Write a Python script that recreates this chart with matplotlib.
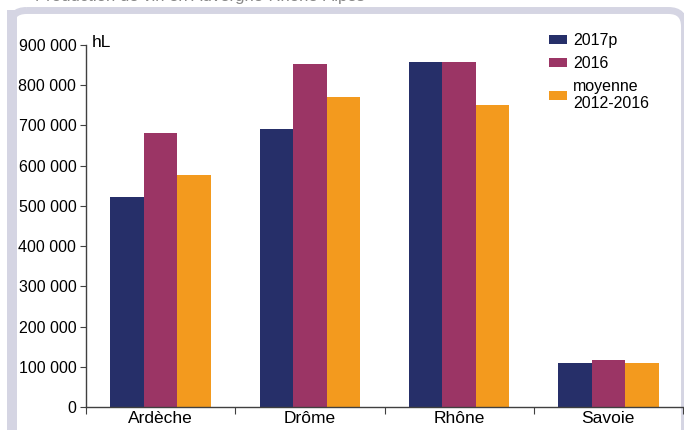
import numpy as np
import matplotlib
matplotlib.use("Agg")
import matplotlib.pyplot as plt
from matplotlib.patches import FancyBboxPatch, Rectangle

plt.rcParams['font.family'] = ['Liberation Sans', 'DejaVu Sans']

# data (hL)
regions = ["Ardèche", "Drôme", "Rhône", "Savoie"]
v2017 = [521000, 691000, 858000, 110000]
v2016 = [681000, 853000, 858000, 117000]
vmoy = [578000, 771000, 751000, 110000]
labels = ["2017p", "2016", "moyenne\n2012-2016"]
colors = ["#262f69", "#9b3565", "#f39a1e"]
yticks = np.arange(0, 900001, 100000)

W, H = 684, 430
fig = plt.figure(figsize=(W / 100, H / 100), dpi=100)

# frame around the chart, in pixel coords
bg = fig.add_axes([0, 0, 1, 1])
bg.set_xlim(0, W)
bg.set_ylim(H, 0)
bg.axis("off")
frame = FancyBboxPatch((10.5, 10.5), 674, 440,
                       boxstyle="round,pad=0,rounding_size=16",
                       fc="none", ec="#d5d5e3", lw=5.0)
bg.add_patch(frame)
bg.add_patch(Rectangle((7, 10), 10, 430, fc="#d5d5e3", ec="none"))
# title cut off by the top edge, as in the source
bg.text(35, 0.5, "Production de vin en Auvergne-Rhône-Alpes", fontsize=12,
        color="#888888", va="baseline", ha="left")

ax = fig.add_axes([86 / W, (H - 407) / H, 597 / W, 362 / H])
x = np.arange(len(regions))
w = 0.225
for i, (vals, lab, c) in enumerate(zip([v2017, v2016, vmoy], labels, colors)):
    ax.bar(x + (i - 1) * w, vals, w, color=c, label=lab, zorder=2)

ax.set_xlim(-0.5, len(regions) - 0.5)
ax.set_ylim(0, 900000)
ax.set_yticks(yticks)
ax.set_yticklabels([f"{v:,}".replace(",", " ") for v in yticks], fontsize=11.5)
ax.set_xticks(np.arange(len(regions) + 1) - 0.5)
ax.set_xticklabels([])
ax.set_xticks(x, minor=True)
ax.set_xticklabels(regions, minor=True, fontsize=12.5)
ax.tick_params(axis="x", which="major", length=5, direction="out", color="#404040")
ax.tick_params(axis="x", which="minor", length=0, pad=3)
ax.tick_params(axis="y", length=4, direction="out", color="#404040", pad=3)
for s in ["top", "right"]:
    ax.spines[s].set_visible(False)
for s in ["left", "bottom"]:
    ax.spines[s].set_color("#404040")
    ax.spines[s].set_linewidth(1)
ax.patch.set_alpha(0)

fig.text(92 / W, 1 - 47 / H, "hL", fontsize=12.5, va="baseline")

ax.legend(loc="upper left", bbox_to_anchor=(549 / W, 1 - 33 / H),
          bbox_transform=fig.transFigure, frameon=False, fontsize=11.5,
          borderpad=0, borderaxespad=0, handlelength=1.15, handleheight=0.55,
          handletextpad=0.35, labelspacing=0.5)

fig.savefig("out.png", dpi=100)
